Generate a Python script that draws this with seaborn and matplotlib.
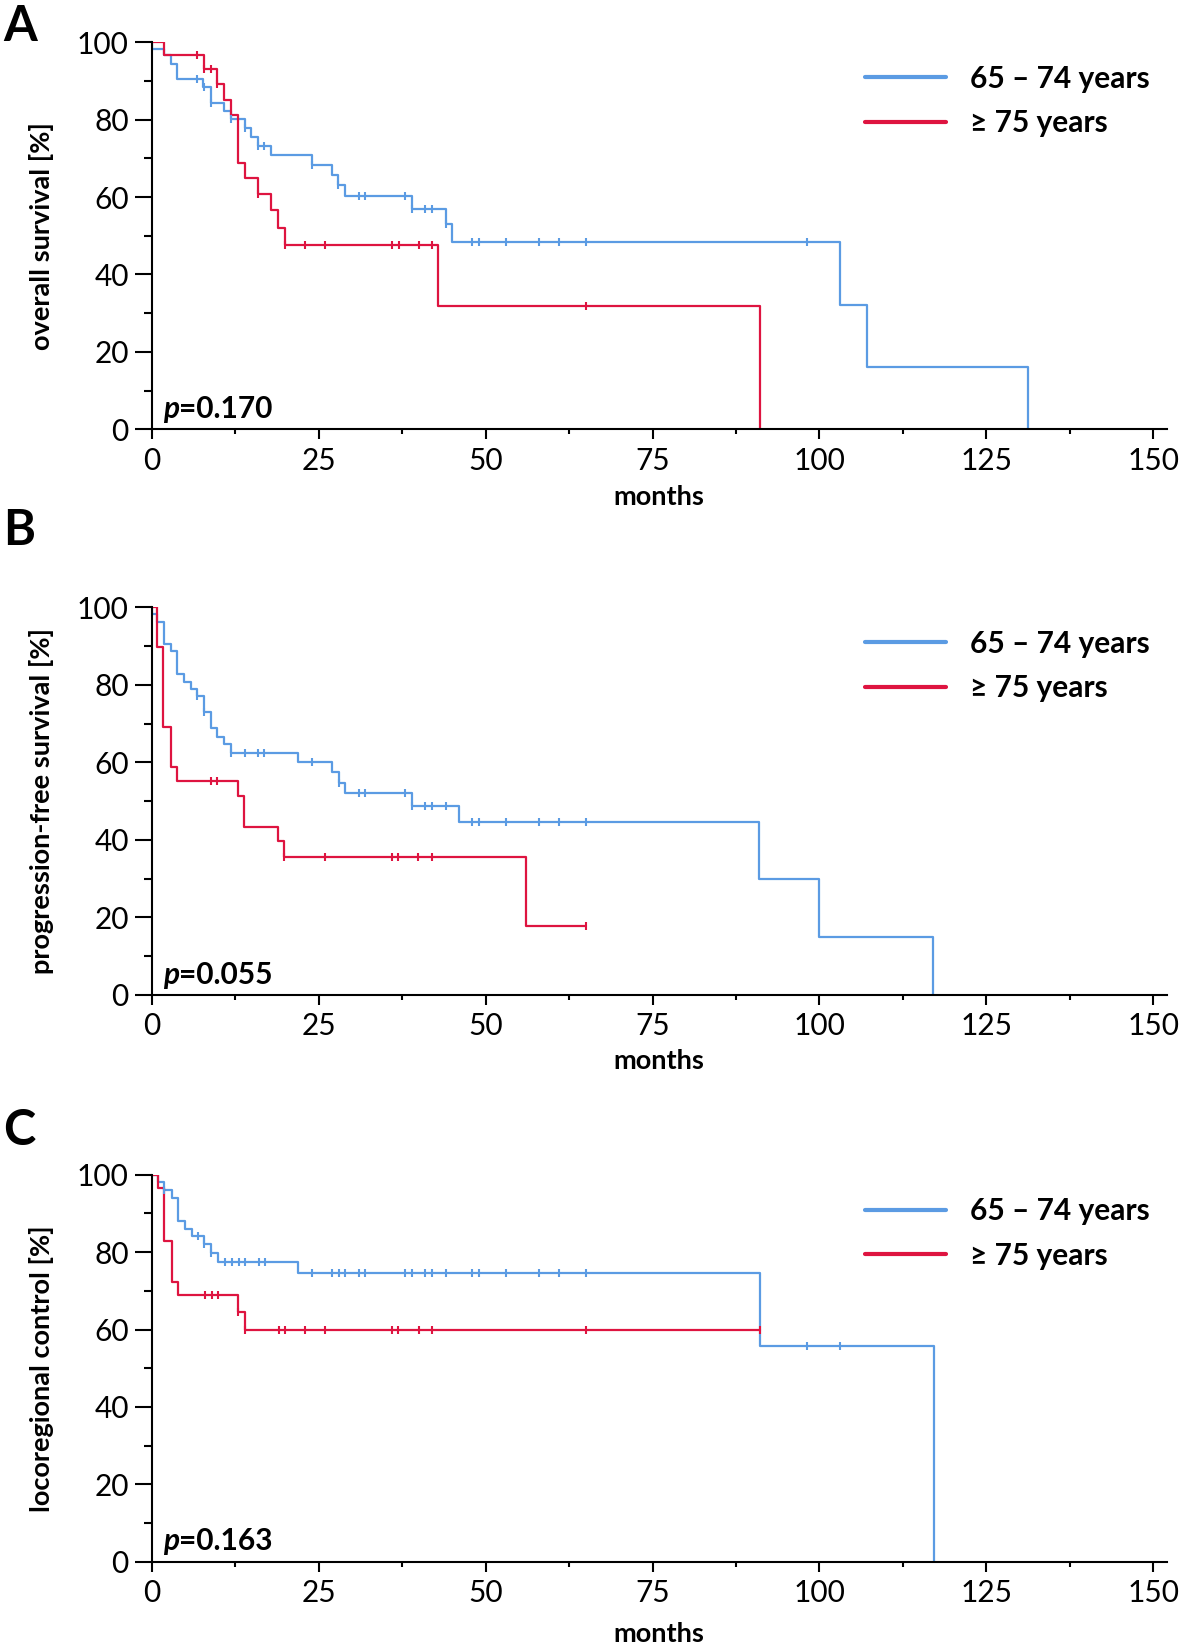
import numpy as np
import matplotlib
matplotlib.use("Agg")
import matplotlib.pyplot as plt
import seaborn as sns

sns.set_style("ticks")
plt.rcParams["font.family"] = ["Lato", "DejaVu Sans"]
plt.rcParams["text.color"] = "black"
plt.rcParams["axes.labelcolor"] = "black"

groups = ["65 – 74 years", "≥ 75 years"]
colors = ["#5B9BE3", "#DE1440"]

# A - overall survival: event times [months], survival after event [%], censored times
os_young_t = [0, 1.85, 2.9, 3.85, 7.75, 8.85, 10.85, 11.85, 13.9, 14.9, 15.85, 17.9, 24.0,
              27.0, 27.9, 28.9, 39.0, 44.0, 45.0, 103.1, 107.1, 131.2]
os_young_s = [98.2, 96.7, 94.5, 90.4, 88.5, 84.4, 82.3, 80.1, 77.9, 75.5, 73.3, 70.8, 68.2,
              65.6, 63.0, 60.3, 56.9, 53.0, 48.4, 32.2, 16.1, 0]
os_young_c = [6.85, 7.85, 8.85, 11.85, 13.9, 15.85, 16.85, 24.0, 27.9, 31, 32, 38, 39, 41, 42,
              44, 48, 49, 53, 58, 61, 65, 98.1]
os_old_t = [1.85, 7.85, 9.85, 10.85, 11.85, 12.9, 13.9, 15.9, 17.9, 18.9, 19.9, 42.9, 91.1]
os_old_s = [96.7, 93.0, 89.2, 85.1, 81.1, 68.9, 64.9, 60.8, 56.6, 52.1, 47.6, 31.9, 0]
os_old_c = [6.85, 7.85, 8.85, 9.85, 15.9, 19.9, 22.9, 25.9, 36, 37, 40, 42, 65]

# B - progression-free survival
pfs_young_t = [0, 0.75, 1.85, 2.85, 3.85, 4.85, 5.85, 6.85, 7.85, 8.85, 9.85, 10.85, 11.85,
               21.95, 27.0, 28.0, 29.0, 39.0, 46.0, 91.0, 100.0, 117.0]
pfs_young_s = [98.2, 96.1, 90.5, 88.6, 82.8, 80.8, 78.8, 77.0, 72.9, 68.8, 66.6, 64.7, 62.5,
               60.0, 57.4, 54.8, 52.2, 48.8, 44.5, 29.8, 15.0, 0]
pfs_young_c = [6.85, 7.85, 11.85, 13.95, 15.95, 16.85, 23.95, 28.0, 31, 32, 38, 39, 41, 42, 44,
               48, 49, 53, 58, 61, 65]
pfs_old_t = [0.75, 1.75, 2.85, 3.85, 12.85, 13.85, 18.85, 19.85, 56.0]
pfs_old_s = [89.7, 69.0, 58.7, 55.3, 51.3, 43.4, 39.6, 35.7, 17.9]
pfs_old_c = [8.95, 9.85, 19.85, 25.95, 35.95, 36.95, 39.95, 41.95, 65]

# C - locoregional control
lrc_young_t = [1.0, 1.9, 3.0, 4.0, 5.0, 6.0, 7.9, 8.9, 9.9, 21.9, 91.1, 117.2]
lrc_young_s = [98.1, 96.1, 94.1, 88.1, 86.0, 84.1, 82.0, 79.8, 77.4, 74.5, 55.8, 0]
lrc_young_c = [1.9, 7.0, 7.9, 8.9, 11, 12, 13, 14, 16, 16.9, 24, 27, 28, 28.9, 31, 32, 38, 39,
               41, 42, 44, 48, 49, 53, 58, 61, 65, 98.1, 103.1]
lrc_old_t = [0.9, 1.9, 3.0, 4.0, 12.9, 14.0]
lrc_old_s = [96.5, 82.9, 72.4, 68.9, 64.6, 59.9]
lrc_old_c = [8, 9, 9.9, 12.9, 14.0, 19, 19.9, 22.9, 25.9, 36, 36.9, 40, 42, 65, 91.1]

panels = [
    ("A", "overall survival [%]", "0.170",
     [(os_young_t, os_young_s, os_young_c), (os_old_t, os_old_s, os_old_c)]),
    ("B", "progression-free survival [%]", "0.055",
     [(pfs_young_t, pfs_young_s, pfs_young_c), (pfs_old_t, pfs_old_s, pfs_old_c)]),
    ("C", "locoregional control [%]", "0.163",
     [(lrc_young_t, lrc_young_s, lrc_young_c), (lrc_old_t, lrc_old_s, lrc_old_c)]),
]


def km_steps(times, surv, cens):
    end = max(times[-1], max(cens))
    x = [0] + list(times) + [end]
    y = [100] + list(surv) + [surv[-1]]
    idx = np.searchsorted(times, cens, side="right")
    surv_ext = np.array([100] + list(surv))
    return x, y, surv_ext[idx]


W, H = 1181, 1645
fig = plt.figure(figsize=(W / 100, H / 100), dpi=100)

# pixel boxes: (top, bottom) of each axes
boxes = [(42.3, 429.3), (607.3, 995.0), (1174.7, 1561.7)]
letter_y = [41, 545, 1145]
xlabel_y = [-0.143, -0.14, -0.156]
left_px, right_px = 151.7, 1166.7

for (letter, ylab, pval, series), (top, bot), ly, xly in zip(panels, boxes, letter_y, xlabel_y):
    ax = fig.add_axes([left_px / W, 1 - bot / H, (right_px - left_px) / W, (bot - top) / H])
    for (t, s, c), g, col in zip(series, groups, colors):
        x, y, cy = km_steps(t, s, c)
        sns.lineplot(x=x, y=y, drawstyle="steps-post", estimator=None, sort=False,
                     color=col, linewidth=1.6, label=g, ax=ax)
        sns.scatterplot(x=c, y=cy, marker="|", s=40, color=col, linewidth=1.5, ax=ax, zorder=3)

    ax.set_xlim(0, 152)
    ax.set_ylim(0, 100)
    ax.set_xticks(np.arange(0, 151, 25))
    ax.set_xticks(np.arange(12.5, 150, 25), minor=True)
    ax.set_yticks(np.arange(0, 101, 20))
    ax.set_yticks(np.arange(10, 100, 20), minor=True)
    for sp in ["top", "right"]:
        ax.spines[sp].set_visible(False)
    for sp in ["left", "bottom"]:
        ax.spines[sp].set_linewidth(1.5)
        ax.spines[sp].set_color("black")
    ax.tick_params(axis="both", which="both", width=1.5, color="black", labelsize=21.5,
                   labelcolor="black")
    ax.tick_params(axis="y", which="major", length=12.5, pad=4)
    ax.tick_params(axis="y", which="minor", length=5.5)
    ax.tick_params(axis="x", which="major", length=7.5, pad=5)
    ax.tick_params(axis="x", which="minor", length=3.5)

    ax.set_ylabel(ylab, fontsize=19.5, fontweight="bold")
    ax.yaxis.set_label_coords(-0.096, 0.5)
    ax.set_xlabel("months", fontsize=19.5, fontweight="bold")
    ax.xaxis.set_label_coords(0.5, xly)

    ptxt = ax.text(0.011, 0.029, "p", transform=ax.transAxes, fontsize=21.5,
                   fontweight="bold", fontstyle="italic", va="baseline", ha="left")
    ax.annotate("=" + pval, xy=(1, 0), xycoords=ptxt, fontsize=21.5, fontweight="bold",
                va="bottom", ha="left")

    leg = ax.legend(loc="upper left", bbox_to_anchor=(0.703, 0.942), frameon=False,
                    prop={"weight": "bold", "size": 21.5}, handlelength=2.7,
                    handletextpad=0.8, labelspacing=0.55, borderpad=0, borderaxespad=0)
    for ln in leg.get_lines():
        ln.set_linewidth(3)

    fig.text(3 / W, 1 - ly / H, letter, fontsize=35, fontweight="bold", va="baseline",
             ha="left")

fig.savefig("out.png", dpi=100)
